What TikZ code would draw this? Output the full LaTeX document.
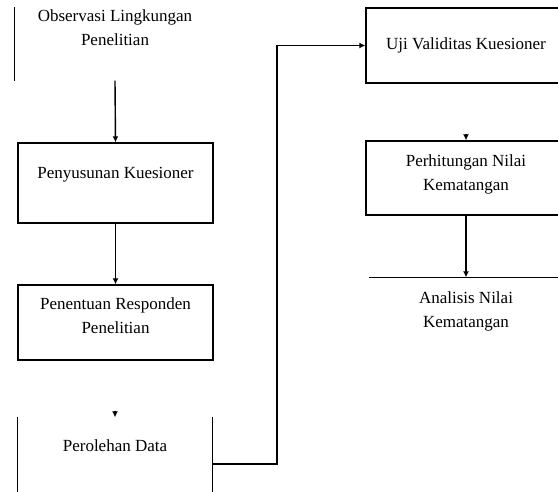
\documentclass[tikz,border=0pt]{standalone}
\usepackage{fontspec}
\setmainfont{Liberation Serif}
\usetikzlibrary{arrows.meta}

\begin{document}
\begin{tikzpicture}[>={Latex[length=6pt,width=6pt]},x=1pt,y=-1pt,line width=1.4pt,
box/.style={align=center,inner sep=0pt,font=\fontsize{17}{24}\selectfont}]
\useasboundingbox (0,0) rectangle (558,492);
\clip (0,0) rectangle (558,492);
% left column
\node[box,minimum width=200pt,minimum height=72pt,text depth=32pt] (obs) at (115,44) {Observasi Lingkungan\\Penelitian};
\node[box,draw,minimum width=195pt,minimum height=80pt,text depth=20pt] (sus) at (115.5,183) {Penyusunan Kuesioner};
\node[box,draw,minimum width=195pt,minimum height=75pt,text depth=14pt] (res) at (115.5,322.5) {Penentuan Responden\\Penelitian};
\node[box,minimum width=194pt,minimum height=122pt,text depth=66pt] (per) at (115,479) {Perolehan Data};
% right column
\node[box,draw,minimum width=200pt,minimum height=75pt] (uji) at (466,45.5) {Uji Validitas Kuesioner};
\node[box,draw,minimum width=200pt,minimum height=74pt,text depth=10pt] (hit) at (466,178) {Perhitungan Nilai\\Kematangan};
\node[box,minimum width=192pt,minimum height=66pt] (ana) at (466,311) {Analisis Nilai\\Kematangan};
\coordinate (k) at (277,464);

\draw (obs.north west) -- (obs.south west);
\draw (per.north west) -- (per.south west);
\draw (per.north east) -- (per.south east);
\draw (ana.north west) -- (ana.north east);

\draw[->] (obs.south) -- (sus.north);
\draw[->] (sus.south) -- (res.north);
\draw[->] ([yshift=6pt]per.north) -- (per.north);
\draw[->] (per.east |- k) -- (k) |- (uji.west);
\draw[->] ([yshift=6pt]hit.north) -- (hit.north);
\draw[->] (hit.south) -- (ana.north);
\end{tikzpicture}
\end{document}
